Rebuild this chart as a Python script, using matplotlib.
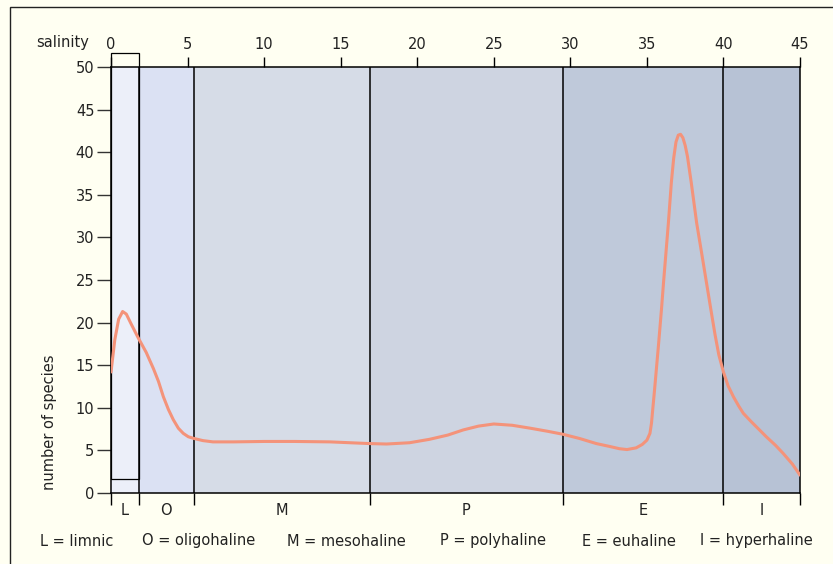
import matplotlib
matplotlib.use("Agg")
import matplotlib.pyplot as plt
from matplotlib.patches import Rectangle

# zone limits (salinity)
zone_edges = [0, 1.8, 5.4, 16.9, 29.5, 40, 45]
zone_letters = ["L", "O", "M", "P", "E", "I"]
zone_colors = ["#eceff9", "#dbe1f3", "#d6dce7", "#ced4e1", "#bfc9da", "#b7c2d5"]
legend_items = ["L = limnic", "O = oligohaline", "M = mesohaline",
                "P = polyhaline", "E = euhaline", "I = hyperhaline"]
legend_x = [40, 142, 287, 440, 582, 700]   # pixel start of each legend item

# species curve
salinity = [0.0, 0.25, 0.5, 0.76, 1.0, 1.3, 1.78, 2.3, 2.77, 3.1, 3.42, 3.75,
            4.07, 4.4, 4.72, 5.05, 5.42, 6.0, 6.66, 8, 10, 12, 14.3, 16.9,
            18.0, 19.5, 20.8, 22.0, 23.0, 24.0, 25.0, 26.2, 27.4, 28.5, 29.5,
            30.6, 31.7, 32.6, 33.2, 33.7, 34.3, 34.7, 35.0, 35.2, 35.3, 35.5,
            35.75, 35.95, 36.1, 36.4, 36.6, 36.75, 36.9, 37.05, 37.2, 37.35,
            37.5, 37.65, 37.9, 38.25, 38.6, 38.9, 39.2, 39.45, 39.7, 40.0,
            40.3, 40.65, 41.0, 41.3, 41.8, 42.3, 42.8, 43.4, 43.9, 44.5, 45.0]
species = [14.2, 18.0, 20.4, 21.3, 21.0, 19.9, 18.2, 16.5, 14.6, 13.1, 11.3, 9.8,
           8.6, 7.6, 7.0, 6.6, 6.4, 6.15, 6.0, 6.0, 6.05, 6.05, 6.0, 5.8,
           5.75, 5.9, 6.3, 6.8, 7.4, 7.85, 8.1, 7.95, 7.6, 7.25, 6.9,
           6.4, 5.8, 5.45, 5.2, 5.1, 5.3, 5.7, 6.2, 7.0, 8.2, 12.1,
           17.2, 21.5, 25.0, 31.6, 36.5, 39.3, 41.2, 42.0, 42.1, 41.7,
           40.8, 39.5, 36.4, 31.7, 27.9, 24.6, 21.3, 18.6, 16.2, 14.2,
           12.6, 11.3, 10.2, 9.35, 8.4, 7.5, 6.6, 5.6, 4.65, 3.4, 2.1]

bg = "#fffff2"
W, H = 833, 564
fig = plt.figure(figsize=(W / 100, H / 100), dpi=100, facecolor=bg)
ax = fig.add_axes([111 / W, 1 - 493 / H, (800 - 111) / W, (493 - 67) / H])
ax.set_facecolor(bg)

for i in range(len(zone_letters)):
    ax.axvspan(zone_edges[i], zone_edges[i + 1], color=zone_colors[i], lw=0, zorder=0)
    ax.text((zone_edges[i] + zone_edges[i + 1]) / 2, -2.1, zone_letters[i],
            ha="center", va="center", fontsize=10.5, color="#222222")
for e in zone_edges[1:-1]:
    ax.axvline(e, color="black", lw=1.1, zorder=2)

# limnic box, drawn a bit higher than the frame as in the original
ax.add_patch(Rectangle((0, 1.65), zone_edges[1], 50.0, fill=False,
                       edgecolor="black", lw=0.9, clip_on=False, zorder=3))

ax.plot(salinity, species, color="#f4937a", lw=2.2, zorder=4, solid_capstyle="round")

ax.set_xlim(0, 45)
ax.set_ylim(0, 50)
ax.set_xticks(zone_edges)
ax.set_xticklabels([])
ax.tick_params(axis="x", direction="out", length=8.6, width=1, color="black")
ax.set_yticks(range(0, 51, 5))
ax.tick_params(axis="y", direction="out", length=10, width=1, color="#333333",
               labelsize=10.5, pad=2, labelcolor="#222222")
for s in ax.spines.values():
    s.set_color("black")
    s.set_linewidth(1.1)

top = ax.secondary_xaxis("top")
top.set_xticks(range(0, 46, 5))
top.tick_params(direction="out", length=7, width=1, labelsize=10.5, pad=4,
                labelcolor="#222222")
top.spines["top"].set_visible(False)

fig.text(63 / W, 1 - 43 / H, "salinity", ha="center", va="center",
         fontsize=10.5, color="#222222")
fig.text(50 / W, 1 - 422 / H, "number of species", rotation=90, ha="center",
         va="center", fontsize=10.5, color="#222222")
for x, t in zip(legend_x, legend_items):
    fig.text(x / W, 1 - 541 / H, t, ha="left", va="center", fontsize=10.5,
             color="#222222")

# outer frame (left and top edges visible)
fig.add_artist(Rectangle((10 / W, -0.05), 1.1, 1 - 7 / H + 0.05, fill=False,
                         edgecolor="#222222", lw=1.0, transform=fig.transFigure))

fig.savefig("out.png", dpi=100, facecolor=bg)
